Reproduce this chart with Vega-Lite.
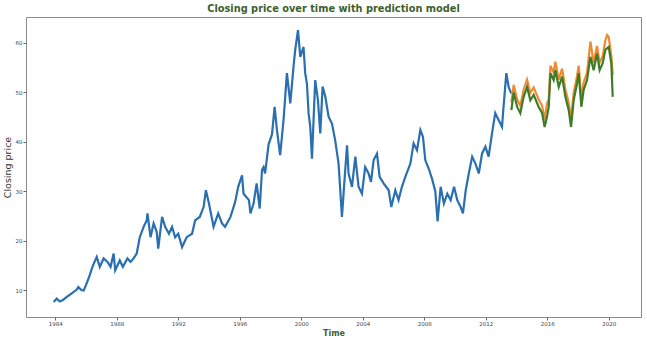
{
  "$schema": "https://vega.github.io/schema/vega-lite/v6.json",
  "width": 615,
  "height": 300,
  "autosize": {"type": "none"},
  "padding": {"left": 26, "top": 17, "right": 6, "bottom": 24},
  "background": "white",
  "title": {"text": "Closing price over time with prediction model", "font": "DejaVu Sans", "fontSize": 9.8, "fontWeight": "bold", "color": "#3d5f2c", "offset": 3, "anchor": "middle"},
  "config": {
    "view": {"stroke": "#8a8a8a", "strokeWidth": 1},
    "axis": {"grid": false, "domain": false, "labelFont": "DejaVu Sans", "labelFontSize": 5.5, "labelColor": "#444444", "tickColor": "#666666", "tickSize": 3, "labelPadding": 1, "titleFont": "DejaVu Sans"}
  },
  "datasets": {
    "train": [
      {"year": 1983.9, "price": 7.6}, {"year": 1984.1, "price": 8.3}, {"year": 1984.3, "price": 7.7}, {"year": 1984.5, "price": 8.0},
      {"year": 1984.8, "price": 8.7}, {"year": 1985.1, "price": 9.4}, {"year": 1985.4, "price": 10.1}, {"year": 1985.5, "price": 10.6},
      {"year": 1985.7, "price": 10.0}, {"year": 1985.85, "price": 9.9}, {"year": 1986.0, "price": 11.0}, {"year": 1986.2, "price": 12.6},
      {"year": 1986.4, "price": 14.5}, {"year": 1986.5, "price": 15.3}, {"year": 1986.7, "price": 16.7}, {"year": 1986.9, "price": 14.7},
      {"year": 1987.15, "price": 16.4}, {"year": 1987.4, "price": 15.7}, {"year": 1987.6, "price": 14.7}, {"year": 1987.8, "price": 17.4},
      {"year": 1987.9, "price": 14.0}, {"year": 1988.2, "price": 16.0}, {"year": 1988.4, "price": 14.7}, {"year": 1988.7, "price": 16.4},
      {"year": 1988.9, "price": 15.7}, {"year": 1989.1, "price": 16.4}, {"year": 1989.3, "price": 17.4}, {"year": 1989.5, "price": 20.7},
      {"year": 1989.75, "price": 22.8}, {"year": 1989.95, "price": 24.1}, {"year": 1990.0, "price": 25.5}, {"year": 1990.2, "price": 20.7},
      {"year": 1990.4, "price": 23.5}, {"year": 1990.6, "price": 21.8}, {"year": 1990.7, "price": 18.4}, {"year": 1990.95, "price": 24.8},
      {"year": 1991.15, "price": 22.8}, {"year": 1991.4, "price": 21.4}, {"year": 1991.6, "price": 22.8}, {"year": 1991.8, "price": 20.7},
      {"year": 1992.0, "price": 21.4}, {"year": 1992.25, "price": 18.7}, {"year": 1992.55, "price": 20.7}, {"year": 1992.9, "price": 21.4},
      {"year": 1993.1, "price": 24.1}, {"year": 1993.4, "price": 24.8}, {"year": 1993.65, "price": 26.8}, {"year": 1993.8, "price": 30.2},
      {"year": 1994.0, "price": 27.5}, {"year": 1994.3, "price": 22.8}, {"year": 1994.6, "price": 25.5}, {"year": 1994.85, "price": 23.5},
      {"year": 1995.05, "price": 22.8}, {"year": 1995.4, "price": 24.8}, {"year": 1995.7, "price": 27.8}, {"year": 1995.9, "price": 30.9},
      {"year": 1996.15, "price": 33.2}, {"year": 1996.25, "price": 29.5}, {"year": 1996.6, "price": 28.2}, {"year": 1996.7, "price": 25.5},
      {"year": 1996.9, "price": 27.5}, {"year": 1997.1, "price": 31.6}, {"year": 1997.3, "price": 26.5}, {"year": 1997.45, "price": 34.3},
      {"year": 1997.55, "price": 34.9}, {"year": 1997.65, "price": 33.6}, {"year": 1997.88, "price": 39.5}, {"year": 1998.1, "price": 41.5},
      {"year": 1998.27, "price": 47.1}, {"year": 1998.42, "price": 42.4}, {"year": 1998.63, "price": 37.3}, {"year": 1998.85, "price": 44.4},
      {"year": 1998.96, "price": 49.1}, {"year": 1999.07, "price": 53.9}, {"year": 1999.29, "price": 47.8}, {"year": 1999.5, "price": 55.2},
      {"year": 1999.61, "price": 58.6}, {"year": 1999.79, "price": 62.6}, {"year": 1999.94, "price": 57.2}, {"year": 2000.15, "price": 59.2},
      {"year": 2000.26, "price": 53.9}, {"year": 2000.37, "price": 51.8}, {"year": 2000.48, "price": 45.8}, {"year": 2000.59, "price": 43.0},
      {"year": 2000.7, "price": 36.6}, {"year": 2000.91, "price": 52.5}, {"year": 2001.09, "price": 48.4}, {"year": 2001.24, "price": 41.7},
      {"year": 2001.39, "price": 51.2}, {"year": 2001.57, "price": 49.1}, {"year": 2001.78, "price": 45.1}, {"year": 2002.0, "price": 43.7},
      {"year": 2002.21, "price": 40.3}, {"year": 2002.43, "price": 35.6}, {"year": 2002.65, "price": 24.8}, {"year": 2002.8, "price": 31.6},
      {"year": 2002.98, "price": 39.3}, {"year": 2003.08, "price": 33.6}, {"year": 2003.3, "price": 30.9}, {"year": 2003.52, "price": 37.0},
      {"year": 2003.73, "price": 30.9}, {"year": 2003.95, "price": 29.5}, {"year": 2004.16, "price": 34.9}, {"year": 2004.38, "price": 33.6},
      {"year": 2004.54, "price": 31.9}, {"year": 2004.71, "price": 36.3}, {"year": 2004.93, "price": 37.6}, {"year": 2005.1, "price": 32.9},
      {"year": 2005.36, "price": 31.6}, {"year": 2005.69, "price": 30.2}, {"year": 2005.86, "price": 26.8}, {"year": 2006.12, "price": 30.2},
      {"year": 2006.33, "price": 28.2}, {"year": 2006.55, "price": 30.9}, {"year": 2006.77, "price": 32.9}, {"year": 2007.1, "price": 35.6},
      {"year": 2007.31, "price": 39.7}, {"year": 2007.53, "price": 38.3}, {"year": 2007.75, "price": 42.4}, {"year": 2007.92, "price": 41.0},
      {"year": 2008.07, "price": 36.3}, {"year": 2008.29, "price": 34.6}, {"year": 2008.51, "price": 32.5}, {"year": 2008.72, "price": 30.0},
      {"year": 2008.87, "price": 23.9}, {"year": 2009.07, "price": 30.9}, {"year": 2009.28, "price": 27.5}, {"year": 2009.5, "price": 29.5},
      {"year": 2009.72, "price": 28.2}, {"year": 2009.94, "price": 30.9}, {"year": 2010.15, "price": 28.2}, {"year": 2010.37, "price": 26.8},
      {"year": 2010.52, "price": 25.5}, {"year": 2010.7, "price": 30.2}, {"year": 2010.9, "price": 33.6}, {"year": 2011.12, "price": 37.0},
      {"year": 2011.33, "price": 35.6}, {"year": 2011.55, "price": 33.6}, {"year": 2011.76, "price": 37.6}, {"year": 2011.98, "price": 39.0},
      {"year": 2012.19, "price": 37.0}, {"year": 2012.41, "price": 41.7}, {"year": 2012.62, "price": 45.8}, {"year": 2012.84, "price": 44.4},
      {"year": 2013.06, "price": 43.0}, {"year": 2013.16, "price": 47.1}, {"year": 2013.34, "price": 53.9}, {"year": 2013.49, "price": 51.1},
      {"year": 2013.66, "price": 49.8}
    ],
    "valid": [
      {"year": 2013.67, "price": 48.0}, {"year": 2013.82, "price": 51.5}, {"year": 2014.04, "price": 48.6}, {"year": 2014.25, "price": 47.3},
      {"year": 2014.47, "price": 50.6}, {"year": 2014.69, "price": 52.6}, {"year": 2014.9, "price": 49.9}, {"year": 2015.12, "price": 51.0},
      {"year": 2015.44, "price": 48.6}, {"year": 2015.67, "price": 47.3}, {"year": 2015.83, "price": 44.5}, {"year": 2015.99, "price": 47.8},
      {"year": 2016.1, "price": 48.6}, {"year": 2016.21, "price": 55.4}, {"year": 2016.42, "price": 54.0}, {"year": 2016.53, "price": 56.2},
      {"year": 2016.75, "price": 52.6}, {"year": 2016.97, "price": 54.8}, {"year": 2017.18, "price": 50.6}, {"year": 2017.4, "price": 47.9},
      {"year": 2017.55, "price": 44.5}, {"year": 2017.72, "price": 49.9}, {"year": 2017.94, "price": 53.3}, {"year": 2018.05, "price": 55.4},
      {"year": 2018.22, "price": 48.6}, {"year": 2018.37, "price": 52.0}, {"year": 2018.59, "price": 54.0}, {"year": 2018.81, "price": 60.3},
      {"year": 2019.02, "price": 56.0}, {"year": 2019.24, "price": 59.4}, {"year": 2019.41, "price": 56.0}, {"year": 2019.61, "price": 57.4},
      {"year": 2019.78, "price": 60.5}, {"year": 2019.89, "price": 61.6}, {"year": 2020.0, "price": 61.2}, {"year": 2020.17, "price": 57.4},
      {"year": 2020.26, "price": 53.5}
    ],
    "pred": [
      {"year": 2013.67, "price": 46.4}, {"year": 2013.82, "price": 50.0}, {"year": 2014.04, "price": 47.1}, {"year": 2014.25, "price": 45.8},
      {"year": 2014.47, "price": 49.1}, {"year": 2014.69, "price": 51.1}, {"year": 2014.9, "price": 48.4}, {"year": 2015.12, "price": 49.5},
      {"year": 2015.44, "price": 47.1}, {"year": 2015.67, "price": 45.8}, {"year": 2015.83, "price": 43.0}, {"year": 2015.99, "price": 45.1},
      {"year": 2016.1, "price": 47.1}, {"year": 2016.21, "price": 53.9}, {"year": 2016.42, "price": 52.5}, {"year": 2016.53, "price": 54.5},
      {"year": 2016.75, "price": 51.1}, {"year": 2016.97, "price": 53.2}, {"year": 2017.18, "price": 49.1}, {"year": 2017.4, "price": 46.4},
      {"year": 2017.55, "price": 43.0}, {"year": 2017.72, "price": 48.4}, {"year": 2017.94, "price": 51.8}, {"year": 2018.05, "price": 53.9},
      {"year": 2018.22, "price": 47.1}, {"year": 2018.37, "price": 50.5}, {"year": 2018.59, "price": 52.5}, {"year": 2018.81, "price": 57.2},
      {"year": 2019.02, "price": 54.5}, {"year": 2019.24, "price": 57.9}, {"year": 2019.41, "price": 54.5}, {"year": 2019.61, "price": 55.9},
      {"year": 2019.78, "price": 58.6}, {"year": 2019.89, "price": 58.9}, {"year": 2020.0, "price": 59.2}, {"year": 2020.17, "price": 55.9},
      {"year": 2020.26, "price": 49.1}
    ]
  },
  "encoding": {
    "x": {"field": "year", "type": "quantitative", "scale": {"domain": [1982.1, 2022.1], "nice": false, "zero": false},
      "axis": {"values": [1984, 1988, 1992, 1996, 2000, 2004, 2008, 2012, 2016, 2020], "format": "d", "title": "Time", "titleFontSize": 8, "titleFontWeight": "bold", "titleColor": "#3d5f2c", "titlePadding": 3}},
    "y": {"field": "price", "type": "quantitative", "scale": {"domain": [4.55, 65.26], "nice": false, "zero": false},
      "axis": {"values": [10, 20, 30, 40, 50, 60], "title": "Closing price", "titleFontSize": 9.5, "titleFontWeight": "normal", "titleColor": "#333333", "titlePadding": 3}}
  },
  "layer": [
    {"data": {"name": "train"}, "mark": {"type": "line", "color": "#2a6fb0", "strokeWidth": 2.2}},
    {"data": {"name": "valid"}, "mark": {"type": "line", "color": "#f08a30", "strokeWidth": 2.2}},
    {"data": {"name": "pred"}, "mark": {"type": "line", "color": "#3d7d2a", "strokeWidth": 2.2}}
  ]
}
